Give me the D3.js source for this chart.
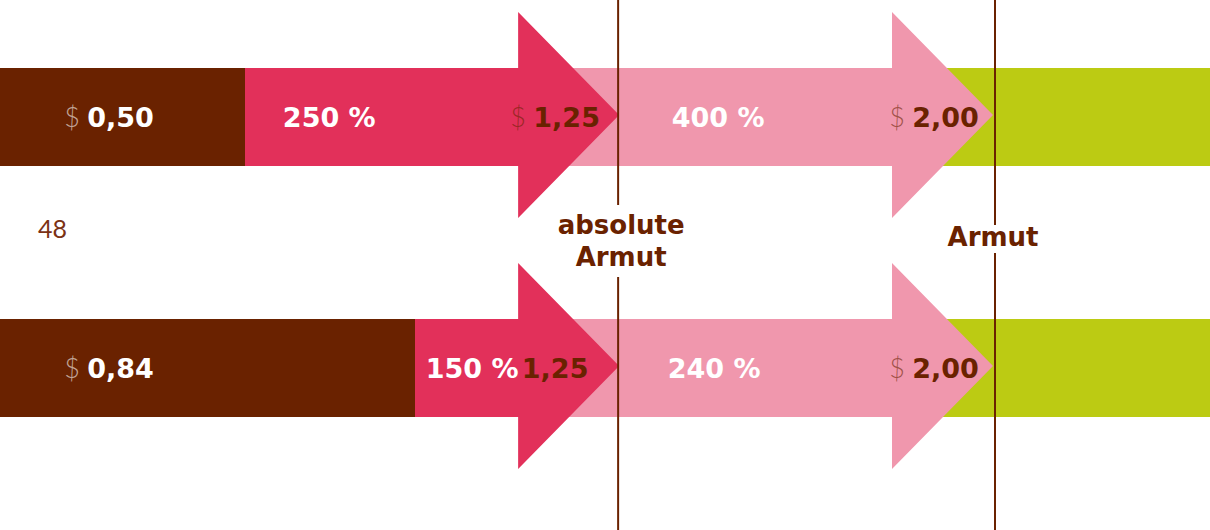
<!DOCTYPE html>
<html>
<head>
<meta charset="utf-8">
<script src="https://cdn.jsdelivr.net/npm/d3@7"></script>
<style>
    body { margin: 0; background: #fff; }
    svg { display: block; font-family: 'DejaVu Sans', sans-serif; }
</style>
</head>
<body>
<div id="chart"></div>
<script>
// Einkommen pro Tag (USD) und Armutsgrenzen
const rowIds = [0, 1];
const startValues = [0.50, 0.84];
const thresholds = [1.25, 2.00];
const thresholdLabels = [['absolute', 'Armut'], ['Armut']];
const pctToAbsolute = ['250 %', '150 %'];
const pctToPoverty = ['400 %', '240 %'];
const absDollarShown = [true, false];
const sideNote = '48';

const Width = 1210,
    Height = 530,
    BarHalf = 49,
    HeadHalf = 103,
    HeadShift = -2,
    HeadLen = 101,
    FontSize = 27;

const colors = {
    brown: '#6a2200',
    red: '#e2305a',
    pink: '#f097ad',
    green: '#bccb13'
};

const svg = d3.select('#chart').append('svg')
    .attr('width', Width)
    .attr('height', Height);

const x = d3.scaleLinear().domain([0, 2]).range([-4, 993]);
const y = d3.scalePoint().domain(rowIds).range([117, 368]);

function arrowPath(x0, x1, cy) {
    const hb = x1 - HeadLen,
        hc = cy + HeadShift;
    return `M${x0},${cy - BarHalf}H${hb}V${hc - HeadHalf}L${x1},${hc}L${hb},${hc + HeadHalf}V${cy + BarHalf}H${x0}Z`;
}

const rows = svg.selectAll('.row')
    .data(rowIds)
    .enter().append('g')
    .attr('class', 'row');

// green: above all poverty lines
rows.append('rect')
    .attr('x', x(thresholds[1]) - HeadLen)
    .attr('y', d => y(d) - BarHalf)
    .attr('width', Width - x(thresholds[1]) + HeadLen)
    .attr('height', BarHalf * 2)
    .attr('fill', colors.green);

rows.append('path')
    .attr('d', d => arrowPath(x(thresholds[0]) - HeadLen, x(thresholds[1]), y(d)))
    .attr('fill', colors.pink);

rows.append('path')
    .attr('d', d => arrowPath(x(startValues[d]) - 1, x(thresholds[0]), y(d)))
    .attr('fill', colors.red);

rows.append('rect')
    .attr('x', 0)
    .attr('y', d => y(d) - BarHalf)
    .attr('width', d => Math.round(x(startValues[d])))
    .attr('height', BarHalf * 2)
    .attr('fill', colors.brown);

function moneyLabel(sel, cx, value, color, dollar) {
    const t = sel.append('text')
        .attr('x', cx)
        .attr('text-anchor', 'middle')
        .attr('font-size', FontSize)
        .attr('fill', color);
    if (dollar) {
        t.append('tspan')
            .attr('font-family', 'Lato, sans-serif')
            .attr('font-weight', 300)
            .attr('fill-opacity', 0.6)
            .text('$ ');
    }
    t.append('tspan')
        .attr('font-weight', 700)
        .text(d3.format('.2f')(value).replace('.', ','));
    return t;
}

rows.each(function (d) {
    const g = d3.select(this),
        base = y(d) + 10;
    moneyLabel(g, x(0) + 113, startValues[d], '#fff', true).attr('y', base);
    moneyLabel(g, x(thresholds[0]) - 64, thresholds[0], colors.brown, absDollarShown[d]).attr('y', base);
    moneyLabel(g, x(thresholds[1]) - 59, thresholds[1], colors.brown, true).attr('y', base);

    g.append('text')
        .attr('x', Math.min(x(startValues[d]) + 84, x(thresholds[0]) - HeadLen - 46))
        .attr('y', base)
        .attr('text-anchor', 'middle')
        .attr('font-size', FontSize)
        .attr('font-weight', 700)
        .attr('fill', '#fff')
        .text(pctToAbsolute[d]);
    g.append('text')
        .attr('x', x(thresholds[0]) + 99 - d * 4)
        .attr('y', base)
        .attr('text-anchor', 'middle')
        .attr('font-size', FontSize)
        .attr('font-weight', 700)
        .attr('fill', '#fff')
        .text(pctToPoverty[d]);
});

// Armutsgrenzen
const gaps = [[205, 277], [225, 253]];
const lines = svg.selectAll('.threshold')
    .data(thresholds)
    .enter().append('g')
    .attr('class', 'threshold')
    .attr('transform', (d, i) => `translate(${x(d) + (i ? 2 : -1)},0)`);

lines.append('line')
    .attr('y1', 0)
    .attr('y2', (d, i) => gaps[i][0])
    .attr('stroke', colors.brown)
    .attr('stroke-width', 2);
lines.append('line')
    .attr('y1', (d, i) => gaps[i][1])
    .attr('y2', Height)
    .attr('stroke', colors.brown)
    .attr('stroke-width', 2);

lines.append('text')
    .attr('text-anchor', 'middle')
    .attr('font-size', 26)
    .attr('font-weight', 700)
    .attr('fill', colors.brown)
    .selectAll('tspan')
    .data((d, i) => thresholdLabels[i])
    .enter().append('tspan')
    .attr('x', (d, i, n) => n.length > 1 ? 3 : -2)
    .attr('y', (d, i, n) => n.length > 1 ? 234 + i * 32 : 246)
    .text(d => d);

svg.append('text')
    .attr('x', 38)
    .attr('y', 238)
    .attr('font-family', 'Lato, sans-serif')
    .attr('font-size', 25)
    .attr('fill', '#7b3214')
    .text(sideNote);
</script>
</body>
</html>
